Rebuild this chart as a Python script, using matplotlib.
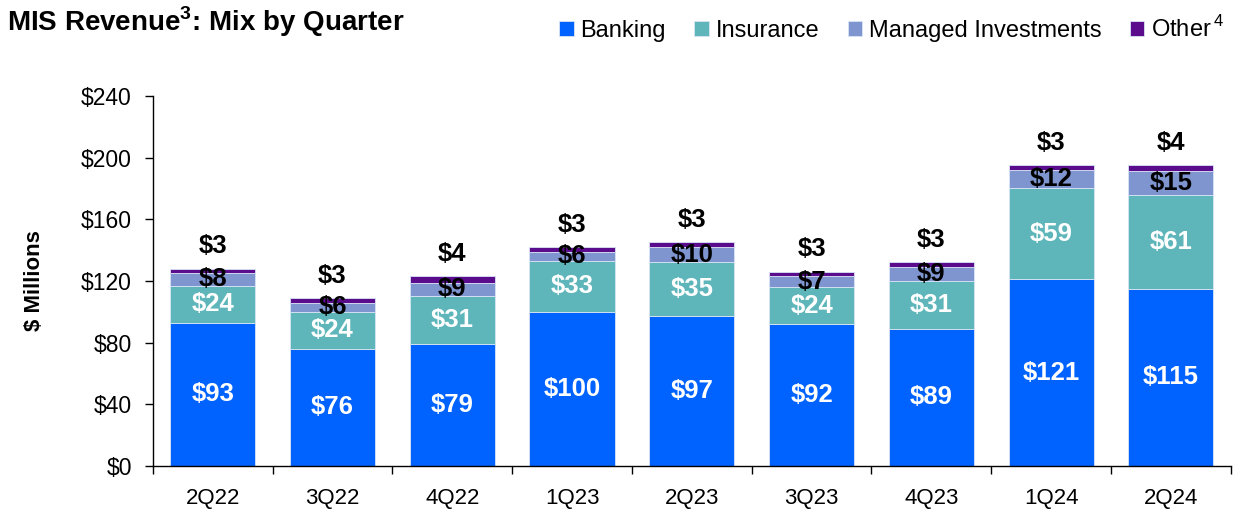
"""
MIS revenue mix by quarter, stacked bars.
"""

import matplotlib.pyplot as plt
import numpy as np

quarters = ["2Q22", "3Q22", "4Q22", "1Q23", "2Q23", "3Q23", "4Q23", "1Q24", "2Q24"]
banking = [93, 76, 79, 100, 97, 92, 89, 121, 115]
insurance = [24, 24, 31, 33, 35, 24, 31, 59, 61]
managed = [8, 6, 9, 6, 10, 7, 9, 12, 15]
other = [3, 3, 4, 3, 3, 3, 3, 3, 4]

yticks = [0, 40, 80, 120, 160, 200, 240]

BLUE = "#0062FF"
TEAL = "#5EB6BA"
LAVENDER = "#7F95D0"
PURPLE = "#5A0C8C"

plt.rcParams["font.family"] = ["Liberation Sans", "DejaVu Sans"]
plt.rcParams["mathtext.fontset"] = "custom"
plt.rcParams["mathtext.rm"] = "Liberation Sans"
plt.rcParams["mathtext.bf"] = "Liberation Sans:bold"

fig = plt.figure(figsize=(12.42, 5.09), dpi=100)
ax = fig.add_axes([0.123, 0.0845, 0.868, 0.727])

x = np.arange(len(quarters))
width = 0.71
b = np.array(banking, dtype=float)
i = np.array(insurance, dtype=float)
m = np.array(managed, dtype=float)
o = np.array(other, dtype=float)

kw = dict(width=width, edgecolor="#d8e4f5", linewidth=0.6)
ax.bar(x, b, color=BLUE, label="Banking", **kw)
ax.bar(x, i, bottom=b, color=TEAL, label="Insurance", **kw)
ax.bar(x, m, bottom=b + i, color=LAVENDER, label="Managed Investments", **kw)
ax.bar(x, o, bottom=b + i + m, color=PURPLE, label="Other", **kw)

lab = dict(ha="center", va="center", fontsize=18.5, fontweight="bold")
for k in range(len(quarters)):
    ax.text(x[k], b[k] / 2, f"${banking[k]}", color="white", **lab)
    ax.text(x[k], b[k] + i[k] / 2, f"${insurance[k]}", color="white", **lab)
    ax.text(x[k], b[k] + i[k] + m[k] / 2, f"${managed[k]}", color="black", **lab)
    top = b[k] + i[k] + m[k] + o[k]
    ax.text(x[k], top + 14.5, f"${other[k]}", color="black", **lab)

ax.set_xlim(-0.5, len(quarters) - 0.5)
ax.set_ylim(0, 240)
ax.set_yticks(yticks)
ax.set_yticklabels([f"${v}" for v in yticks], fontsize=16.5)
ax.set_xticks(x)
ax.set_xticklabels(quarters, fontsize=16)
ax.set_xticks(np.arange(-0.5, len(quarters)), minor=True)
ax.tick_params(axis="x", which="major", length=0, pad=16)
ax.tick_params(axis="x", which="minor", length=6, width=1, direction="out")
ax.tick_params(axis="y", length=6, width=1, direction="out", pad=9)

for side in ["top", "right"]:
    ax.spines[side].set_visible(False)
ax.spines["left"].set_linewidth(1)
ax.spines["bottom"].set_linewidth(1)

ax.set_ylabel("$ Millions", fontsize=16, fontweight="bold", labelpad=26)

fig.text(0.006, 0.957, r"MIS Revenue$^{\mathbf{3}}$: Mix by Quarter", fontsize=20,
         fontweight="bold", ha="left", va="center")

handles, labels = ax.get_legend_handles_labels()
labels = ["Banking", "Insurance", "Managed Investments", "Other$^{\\,4}$"]
fig.legend(handles, labels, loc="center right", bbox_to_anchor=(0.993, 0.943),
           ncol=4, frameon=False, fontsize=17, handlelength=0.6,
           handleheight=0.6, handletextpad=0.3, columnspacing=1.2,
           borderaxespad=0)

fig.savefig("out.png", dpi=100)
